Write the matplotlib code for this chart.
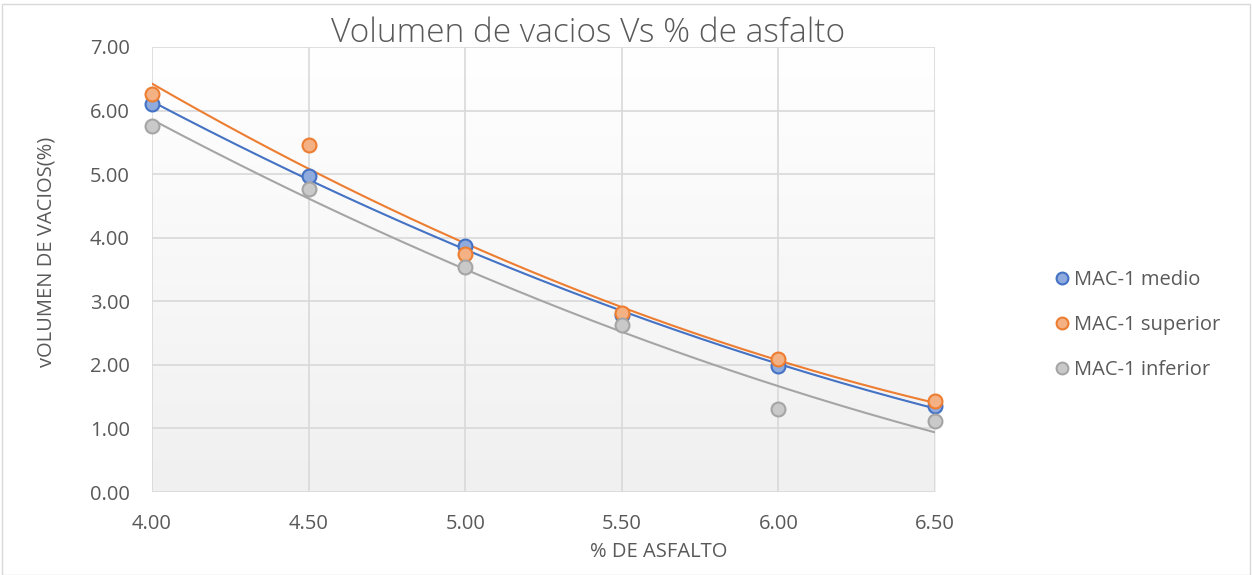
import numpy as np
import matplotlib.pyplot as plt
from matplotlib.colors import LinearSegmentedColormap
from matplotlib.patches import Rectangle

# Datos
asfalto = [4.0, 4.5, 5.0, 5.5, 6.0, 6.5]
mac_medio = [6.10, 4.97, 3.87, 2.78, 1.98, 1.35]
mac_superior = [6.26, 5.46, 3.74, 2.81, 2.10, 1.43]
mac_inferior = [5.75, 4.76, 3.54, 2.63, 1.30, 1.12]

series = [
    ("MAC-1 medio", mac_medio, "#4472c4", "#8faadc"),
    ("MAC-1 superior", mac_superior, "#ed7d31", "#f4b183"),
    ("MAC-1 inferior", mac_inferior, "#a5a5a5", "#c9c9c9"),
]

plt.rcParams['font.family'] = ['Open Sans', 'DejaVu Sans']
texto = "#595959"

fig = plt.figure(figsize=(12.52, 5.75), dpi=100)
W, H = 1252, 575
ax = fig.add_axes([152 / W, 1 - 492 / H, (935 - 152) / W, (492 - 47) / H])

# fondo con degradado (blanco arriba, gris claro abajo)
grad = np.linspace(1, 0, 256).reshape(-1, 1)
cmap = LinearSegmentedColormap.from_list("g", ["#f0f0f0", "#ffffff"])
ax.imshow(grad, extent=[0, 1, 0, 1], transform=ax.transAxes, aspect='auto',
          cmap=cmap, zorder=0)

xs = np.linspace(4.0, 6.5, 200)
for nombre, valores, borde, relleno in series:
    # línea de tendencia polinómica de orden 2
    coef = np.polyfit(asfalto, valores, 2)
    ax.plot(xs, np.polyval(coef, xs), color=borde, lw=1.5, zorder=3)
for nombre, valores, borde, relleno in series:
    ax.plot(asfalto, valores, 'o', ms=10, mfc=relleno, mec=borde, mew=1.5,
            label=nombre, zorder=4, clip_on=False)

ax.set_xlim(4.0, 6.5)
ax.set_ylim(0, 7)
ax.set_xticks(asfalto)
ax.set_yticks(np.arange(0, 8, 1))
ax.xaxis.set_major_formatter(plt.FormatStrFormatter('%.2f'))
ax.yaxis.set_major_formatter(plt.FormatStrFormatter('%.2f'))
ax.grid(True, color="#d9d9d9", lw=1.2, zorder=1)
ax.set_axisbelow(True)
for s in ax.spines.values():
    s.set_visible(False)
ax.tick_params(length=0, labelsize=14.5, colors=texto)
ax.tick_params(axis='y', pad=16)
ax.tick_params(axis='x', pad=16)

fig.text(47 / W, 1 - 252 / H, "vOLUMEN DE VACIOS(%)", rotation=90,
         ha='center', va='center', fontsize=14.5, color=texto)
fig.text(659 / W, 1 - 552 / H, "% DE ASFALTO", ha='center', va='center',
         fontsize=14.5, color=texto)
fig.text(588 / W, 1 - 33 / H, "Volumen de vacios Vs % de asfalto",
         ha='center', va='center', fontsize=24, fontweight='light',
         color=texto)

fig.legend(loc='center left', bbox_to_anchor=(1024 / W, 1 - 325 / H),
           frameon=False, fontsize=14.5, labelcolor=texto,
           handletextpad=-0.4, labelspacing=1.25, markerscale=0.85)

fig.patches.append(Rectangle((2 / W, 0), 1 - 4 / W, 1 - 4 / H,
                             transform=fig.transFigure, fill=False,
                             ec="#d9d9d9", lw=1))

fig.savefig("out.png", dpi=100)
